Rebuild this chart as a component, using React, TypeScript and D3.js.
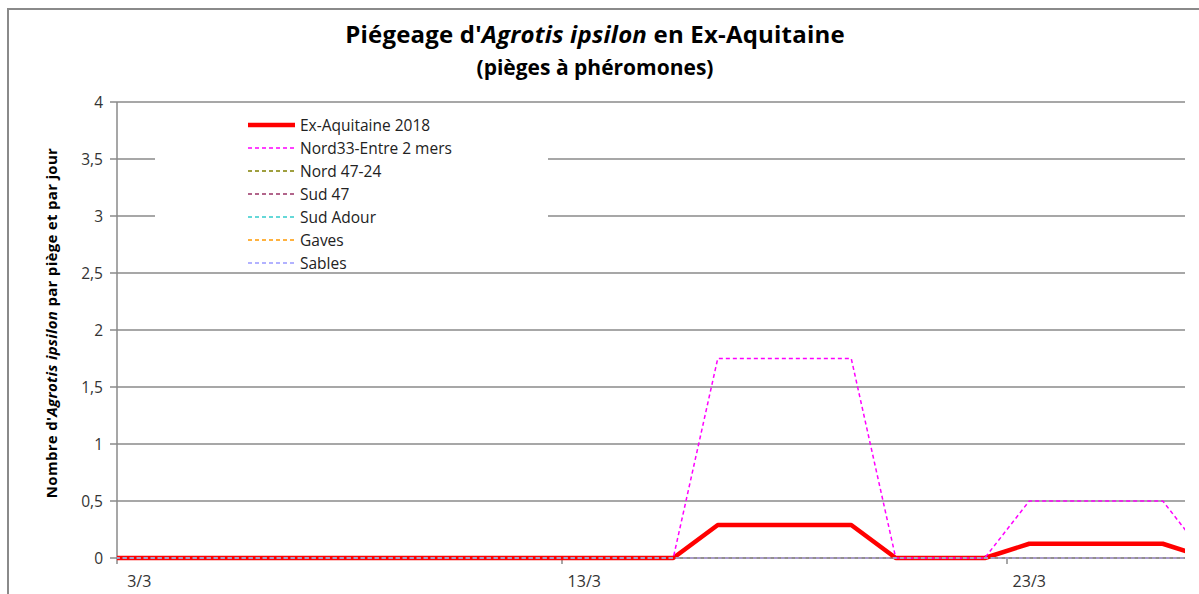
import React from "react";
import * as d3 from "d3";

// Days of March (category positions)
const days = [2, 3, 4, 5, 6, 7, 8, 9, 10, 11, 12, 13, 14, 15, 16, 17, 18, 19, 20, 21, 22, 23, 24, 25, 26, 27];
const exAquitaine = [0, 0, 0, 0, 0, 0, 0, 0, 0, 0, 0, 0, 0, 0, 0.29, 0.29, 0.29, 0.29, 0, 0, 0, 0.125, 0.125, 0.125, 0.125, 0];
const nord33 = [0, 0, 0, 0, 0, 0, 0, 0, 0, 0, 0, 0, 0, 0, 1.75, 1.75, 1.75, 1.75, 0, 0, 0, 0.5, 0.5, 0.5, 0.5, 0];
const nord4724 = [0, 0, 0, 0, 0, 0, 0, 0, 0, 0, 0, 0, 0, 0, 0, 0, 0, 0, 0, 0, 0, 0, 0, 0, 0, 0];
const sud47 = [0, 0, 0, 0, 0, 0, 0, 0, 0, 0, 0, 0, 0, 0, 0, 0, 0, 0, 0, 0, 0, 0, 0, 0, 0, 0];
const sudAdour = [0, 0, 0, 0, 0, 0, 0, 0, 0, 0, 0, 0, 0, 0, 0, 0, 0, 0, 0, 0, 0, 0, 0, 0, 0, 0];
const gaves = [0, 0, 0, 0, 0, 0, 0, 0, 0, 0, 0, 0, 0, 0, 0, 0, 0, 0, 0, 0, 0, 0, 0, 0, 0, 0];
const sables = [0, 0, 0, 0, 0, 0, 0, 0, 0, 0, 0, 0, 0, 0, 0, 0, 0, 0, 0, 0, 0, 0, 0, 0, 0, 0];

const seriesNames = ["Ex-Aquitaine 2018", "Nord33-Entre 2 mers", "Nord 47-24", "Sud 47", "Sud Adour", "Gaves", "Sables"];
const yTicks = [0, 0.5, 1, 1.5, 2, 2.5, 3, 3.5, 4];
const xTickDays = [3, 13, 23];

const seriesValues = [exAquitaine, nord33, nord4724, sud47, sudAdour, gaves, sables];
const seriesColors = ["#FF0000", "#FF00FF", "#808000", "#993366", "#33CCCC", "#FF9900", "#9999FF"];

const W = 1199;
const H = 594;
const left = 117;
const right = 1185;
const top = 102;
const bottom = 558;

export default function App() {
  const x = d3.scaleLinear().domain([2.5, 26.5]).range([left, right]);
  const y = d3.scaleLinear().domain([0, 4]).range([bottom, top]);
  const line = d3
    .line<number>()
    .x((_, i) => x(days[i]))
    .y((v) => y(v));

  const fmt = (v: number) => String(v).replace(".", ",");
  const font = "'Open Sans', 'Noto Sans', sans-serif";

  const legendX = 248;
  const legendY0 = 125;
  const legendDy = 23;

  return (
    <svg
      width={W}
      height={H}
      style={{ position: "absolute", left: 0, top: 0, background: "#fff" }}
      fontFamily={font}
    >
      <defs>
        <clipPath id="plot">
          <rect x={left} y={0} width={right - left} height={H} />
        </clipPath>
      </defs>
      <rect x={8} y={9} width={W + 20} height={H + 20} fill="#fff" stroke="#8a8a8a" strokeWidth={2} />

      {/* Title */}
      <text x={595} y={43} textAnchor="middle" fontSize={24} fontWeight="bold" fill="#000" letterSpacing={0.2}>
        Piégeage d'<tspan fontStyle="italic">Agrotis ipsilon</tspan> en Ex-Aquitaine
      </text>
      <text x={595} y={75} textAnchor="middle" fontSize={21} fontWeight="bold" fill="#000">
        (pièges à phéromones)
      </text>

      {/* gridlines */}
      {yTicks.map((t) => (
        <line key={"g" + t} x1={left - 7} x2={right} y1={y(t)} y2={y(t)} stroke="#8a8a8a" strokeWidth={1.5} />
      ))}
      {/* y axis */}
      <line x1={left} x2={left} y1={top} y2={bottom + 1} stroke="#8a8a8a" strokeWidth={1.5} />
      {yTicks.map((t) => (
        <text key={"yl" + t} x={103} y={y(t) + 5.5} textAnchor="end" fontSize={15.5} fill="#333">
          {fmt(t)}
        </text>
      ))}
      <text
        transform={`translate(57,${(top + bottom) / 2 - 7}) rotate(-90)`}
        textAnchor="middle"
        fontSize={15}
        fontWeight="bold"
        fill="#000"
        letterSpacing={0.3}
      >
        Nombre d'<tspan fontStyle="italic">Agrotis ipsilon</tspan> par piège et par jour
      </text>

      {/* x axis */}
      <line x1={left} x2={right} y1={bottom} y2={bottom} stroke="#8a8a8a" strokeWidth={1.5} />
      {xTickDays.map((d) => (
        <g key={"xt" + d}>
          <line x1={x(d - 0.5)} x2={x(d - 0.5)} y1={bottom} y2={bottom + 6} stroke="#8a8a8a" strokeWidth={1.5} />
          <text x={x(d)} y={587} textAnchor="middle" fontSize={16} fill="#333">
            {d}/3
          </text>
        </g>
      ))}

      {/* legend background */}
      <rect x={155} y={107} width={393} height={163} fill="#fff" />

      {/* series */}
      <g clipPath="url(#plot)">
        {seriesValues.map((vals, i) => (
          <path
            key={"s" + i}
            d={line(vals) || ""}
            fill="none"
            stroke={seriesColors[i]}
            strokeWidth={i === 0 ? 4.5 : 1.5}
            strokeDasharray={i === 0 ? undefined : "4,3"}
            strokeLinejoin="round"
          />
        ))}
      </g>

      {/* legend */}
      {seriesNames.map((name, i) => (
        <g key={"l" + i}>
          <line
            x1={legendX}
            x2={legendX + 47}
            y1={legendY0 + i * legendDy}
            y2={legendY0 + i * legendDy}
            stroke={seriesColors[i]}
            strokeWidth={i === 0 ? 4.5 : 1.5}
            strokeDasharray={i === 0 ? undefined : "4,3"}
          />
          <text x={legendX + 52} y={legendY0 + i * legendDy + 5.5} fontSize={15.5} fill="#222">
            {name}
          </text>
        </g>
      ))}
    </svg>
  );
}
